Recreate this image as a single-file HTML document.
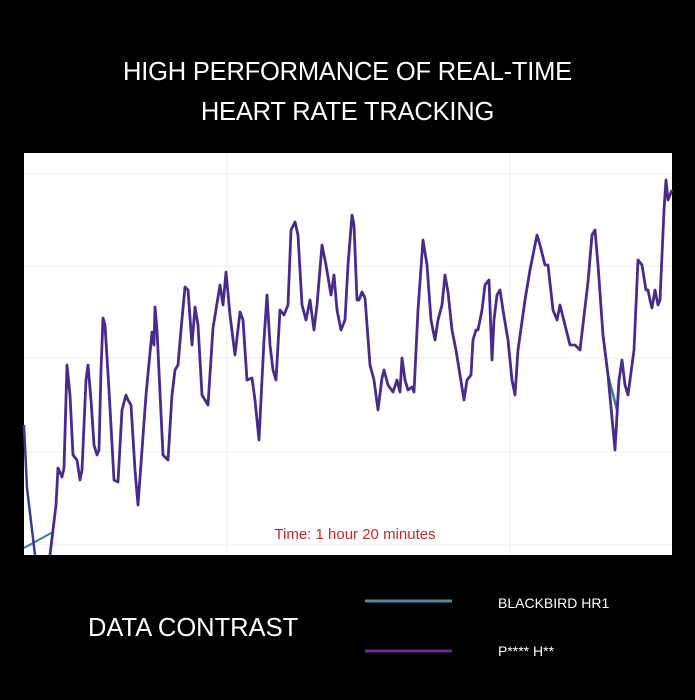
<!DOCTYPE html>
<html><head><meta charset="utf-8"><style>
body{margin:0;background:#000;width:695px;height:700px;overflow:hidden;font-family:"Liberation Sans",sans-serif;position:relative}
.t{position:absolute;color:#fff;white-space:nowrap}
</style></head><body>
<div class="t" style="left:0;width:695px;text-align:center;top:52px;font-size:25.5px;line-height:40px;letter-spacing:-0.2px">HIGH PERFORMANCE OF REAL-TIME<br>HEART RATE TRACKING</div>
<svg style="position:absolute;left:0;top:0" width="695" height="700">
<rect x="24" y="153" width="648" height="402" fill="#fff"/>
<g stroke="#ececec" stroke-width="1">
<line x1="24" x2="672" y1="174" y2="174"/><line x1="24" x2="672" y1="266" y2="266"/><line x1="24" x2="672" y1="358" y2="358"/><line x1="24" x2="672" y1="452" y2="452"/><line x1="24" x2="672" y1="545" y2="545"/>
<line x1="227" x2="227" y1="153" y2="555"/><line x1="510" x2="510" y1="153" y2="555"/>
</g>
<polyline fill="none" stroke="#2f7f9a" stroke-width="2" points="24,548 53,532"/>
<polyline fill="none" stroke="#2f7f9a" stroke-width="2.5" points="603,335 608,375 617,410 619,380"/>
<polyline fill="none" stroke="#3a3d8a" stroke-width="2.5" stroke-linejoin="round" points="24,425 27,488 35,555"/>
<polyline fill="none" stroke="#4b2a8c" stroke-width="2.8" stroke-linejoin="round" points="50,555 56,505 58,468 62,477 64,468 67,365 70,395 73,455 77,460 80,480 82,470 86,380 88,365 91,400 94,445 97,455 99,450 101,370 103,318 105,325 109,390 114,480 118,482 122,410 126,395 128,400 131,405 135,470 138,505 142,450 146,395 152,332 154,345 155,307 157,330 163,455 168,460 172,395 175,370 178,365 181,330 185,287 188,290 192,345 195,307 198,325 202,395 208,405 213,328 220,285 223,305 226,272 230,315 235,355 240,312 243,320 247,380 252,378 255,400 259,440 264,340 267,295 270,345 273,370 276,380 280,310 284,315 288,305 291,230 295,222 298,235 302,305 306,320 310,300 314,330 317,305 322,245 326,265 331,295 334,275 337,310 341,330 345,320 348,265 352,215 354,225 357,300 359,300 362,292 365,298 370,365 374,380 378,410 382,378 384,370 388,385 393,392 397,380 400,392 402,358 405,380 408,390 412,387 414,392 418,310 423,240 427,265 431,320 435,340 438,320 442,305 445,275 448,292 452,330 456,350 460,375 464,400 467,380 471,375 473,340 476,330 478,330 482,310 485,285 489,280 492,360 494,320 497,295 500,290 503,310 508,340 512,380 515,395 518,350 525,300 530,270 537,235 540,245 545,265 548,265 553,310 557,320 560,305 565,325 570,345 575,345 580,350 588,282 592,235 595,230 598,265 603,335 608,375 615,450 619,380 622,360 625,385 628,395 630,380 634,350 638,260 642,265 646,290 648,290 650,300 652,308 655,290 658,305 660,300 664,210 666,180 668,200 670,195 672,190"/>
<text x="355" y="539" text-anchor="middle" fill="#c0282a" font-size="15" font-family="Liberation Sans, sans-serif">Time: 1 hour 20 minutes</text>
<line x1="365" x2="452" y1="601" y2="601" stroke="#4a8aa6" stroke-width="3"/>
<line x1="365" x2="452" y1="651" y2="651" stroke="#6a2a92" stroke-width="3"/>
</svg>
<div class="t" style="left:88px;top:614px;font-size:25.5px">DATA CONTRAST</div>
<div class="t" style="left:498px;top:595px;font-size:14px">BLACKBIRD HR1</div>
<div class="t" style="left:498px;top:643px;font-size:14px">P**** H**</div>
</body></html>
